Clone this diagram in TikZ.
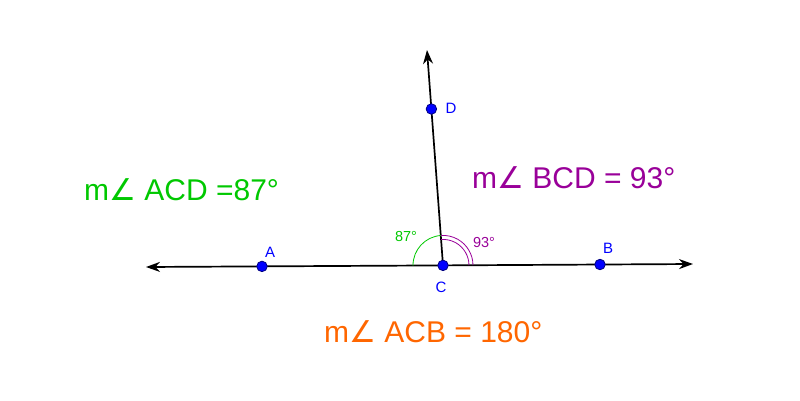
\documentclass[tikz,border=0pt]{standalone}
\usepackage{fontspec}
\setmainfont{Liberation Sans}
\newfontfamily\symfont{DejaVu Sans}
\usetikzlibrary{arrows.meta, angles, positioning}
\definecolor{ggreen}{RGB}{0,200,0}
\definecolor{gpurple}{RGB}{153,0,153}
\definecolor{gorange}{RGB}{255,102,0}
\newcommand{\ang}{{\symfont\char"2220}}

\begin{document}
\begin{tikzpicture}[x=1pt, y=1pt,
    line/.style={line width=1.7pt, -{Stealth[length=14pt, width=10pt]}},
    point/.style={circle, fill=blue, draw=blue!50!black, line width=0.8pt, inner sep=0pt, minimum size=10.5pt},
    ptlabel/.style={text=blue, font=\fontsize{15}{17}\selectfont, inner sep=0pt},
    anglabel/.style={font=\fontsize{14.5}{16}\selectfont, inner sep=0pt},
    measure/.style={font=\fontsize{30}{35}\selectfont, anchor=base west, inner sep=0pt}]
    \useasboundingbox (0,0) rectangle (800,400);

    % Coordinates
    \coordinate (leftend) at (146,133);
    \coordinate (rightend) at (693,136);
    \coordinate (topend) at (427,350);
    \coordinate (A) at (262,133.6);
    \coordinate (C) at (443,134.6);
    \coordinate (B) at (600,135.5);
    \coordinate (D) at (431.4,291);

    % Lines
    \draw[line] (C) -- (leftend);
    \draw[line] (C) -- (rightend);
    \draw[line] (C) -- (topend);

    % Angle marks
    \pic[draw=ggreen, line width=0.8pt, angle radius=30pt] {angle = D--C--A};
    \pic[draw=gpurple, line width=0.8pt, angle radius=30pt] {angle = B--C--D};
    \pic[draw=gpurple, line width=0.8pt, angle radius=26pt] {angle = B--C--D};

    % Nodes
    \node[point] (pA) at (A) {};
    \node[point] (pB) at (B) {};
    \node[point] (pC) at (C) {};
    \node[point] (pD) at (D) {};
    \node[ptlabel] (labA) at (270,148) {A};
    \node[ptlabel] (labB) at (608,152) {B};
    \node[ptlabel] (labC) at (441,113) {C};
    \node[ptlabel] (labD) at (451,292) {D};
    \node[anglabel, text=ggreen] (lab87) at (406,163) {87°};
    \node[anglabel, text=gpurple] (lab93) at (484,157) {93°};

    % Measures
    \node[measure, text=ggreen] (mACD) at (84,200) {m\ang\ ACD =87°};
    \node[measure, text=gpurple] (mBCD) at (472,212) {m\ang\ BCD = 93°};
    \node[measure, text=gorange] (mACB) at (324,58) {m\ang\ ACB = 180°};

\end{tikzpicture}
\end{document}
